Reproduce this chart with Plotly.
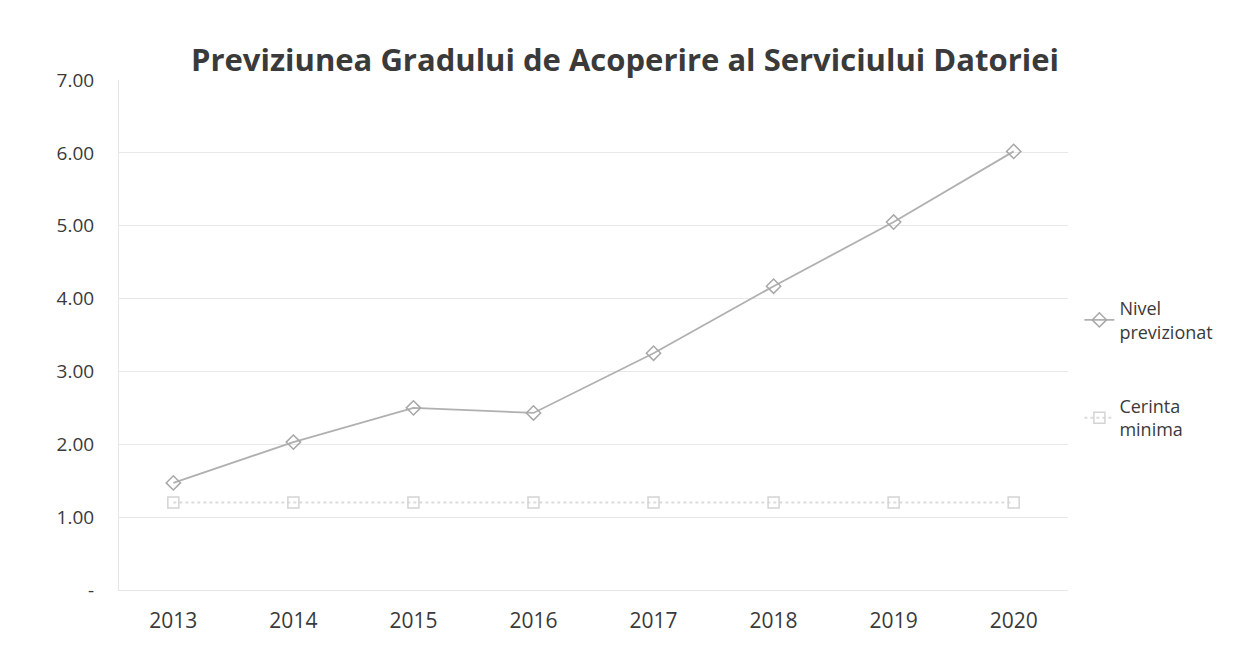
import plotly.graph_objects as go

years = ["2013", "2014", "2015", "2016", "2017", "2018", "2019", "2020"]
nivel = [1.47, 2.03, 2.50, 2.43, 3.25, 4.17, 5.05, 6.02]
cerinta = [1.20, 1.20, 1.20, 1.20, 1.20, 1.20, 1.20, 1.20]
ytick_vals = [0, 1, 2, 3, 4, 5, 6, 7]
ytick_text = ["-", "1.00", "2.00", "3.00", "4.00", "5.00", "6.00", "7.00"]

FONT = "Open Sans"
TXT = "#3a3a3a"

# page body has an 8px offset; figure coordinates below compensate for it
L, R, T, B = 111, 173, 72, 87
PW = 1233 - L - R
PH = 669 - T - B

fig = go.Figure()
fig.add_trace(go.Scatter(
    x=years, y=nivel, name="Nivel<br>previzionat", mode="lines+markers",
    line=dict(color="#b0b0b0", width=1.8),
    marker=dict(symbol="diamond-open", size=11, color="#a8a8a8", line=dict(width=1.5)),
    legendgroup="a",
))
fig.add_trace(go.Scatter(
    x=years, y=cerinta, name="Cerinta<br>minima", mode="lines+markers",
    line=dict(color="#dcdcdc", width=2, dash="dot"),
    marker=dict(symbol="square-open", size=11, color="#d4d4d4", line=dict(width=1.5)),
    legendgroup="b",
))

fig.update_layout(
    width=1233, height=669,
    paper_bgcolor="white", plot_bgcolor="white",
    margin=dict(l=L, r=R, t=T, b=B, autoexpand=False),
    title=dict(text="<b>Previziunea Gradului de Acoperire al Serviciului Datoriei</b>",
               x=(625 - 8 - L) / PW, xref="paper", xanchor="center",
               y=1 - 52 / 669, yanchor="middle",
               font=dict(family=FONT, size=31, color=TXT)),
    font=dict(family=FONT, size=17, color=TXT),
    showlegend=True,
    legend=dict(x=1.012, xanchor="left", y=(669 - B - 282) / PH, yanchor="top",
                font=dict(family=FONT, size=18, color=TXT),
                tracegroupgap=48, bgcolor="rgba(0,0,0,0)"),
    xaxis=dict(type="category", showgrid=False, showline=True, linecolor="#e6e6e6",
               ticks="", tickfont=dict(size=21), ticklabelstandoff=12,
               automargin=False),
    yaxis=dict(range=[0, 7], tickvals=ytick_vals, ticktext=ytick_text,
               showgrid=True, gridcolor="#e8e8e8", gridwidth=1, zeroline=False,
               showline=True, linecolor="#e6e6e6", tickfont=dict(size=19),
               ticklabelstandoff=20, automargin=False),
)

fig.write_html("out.html")
